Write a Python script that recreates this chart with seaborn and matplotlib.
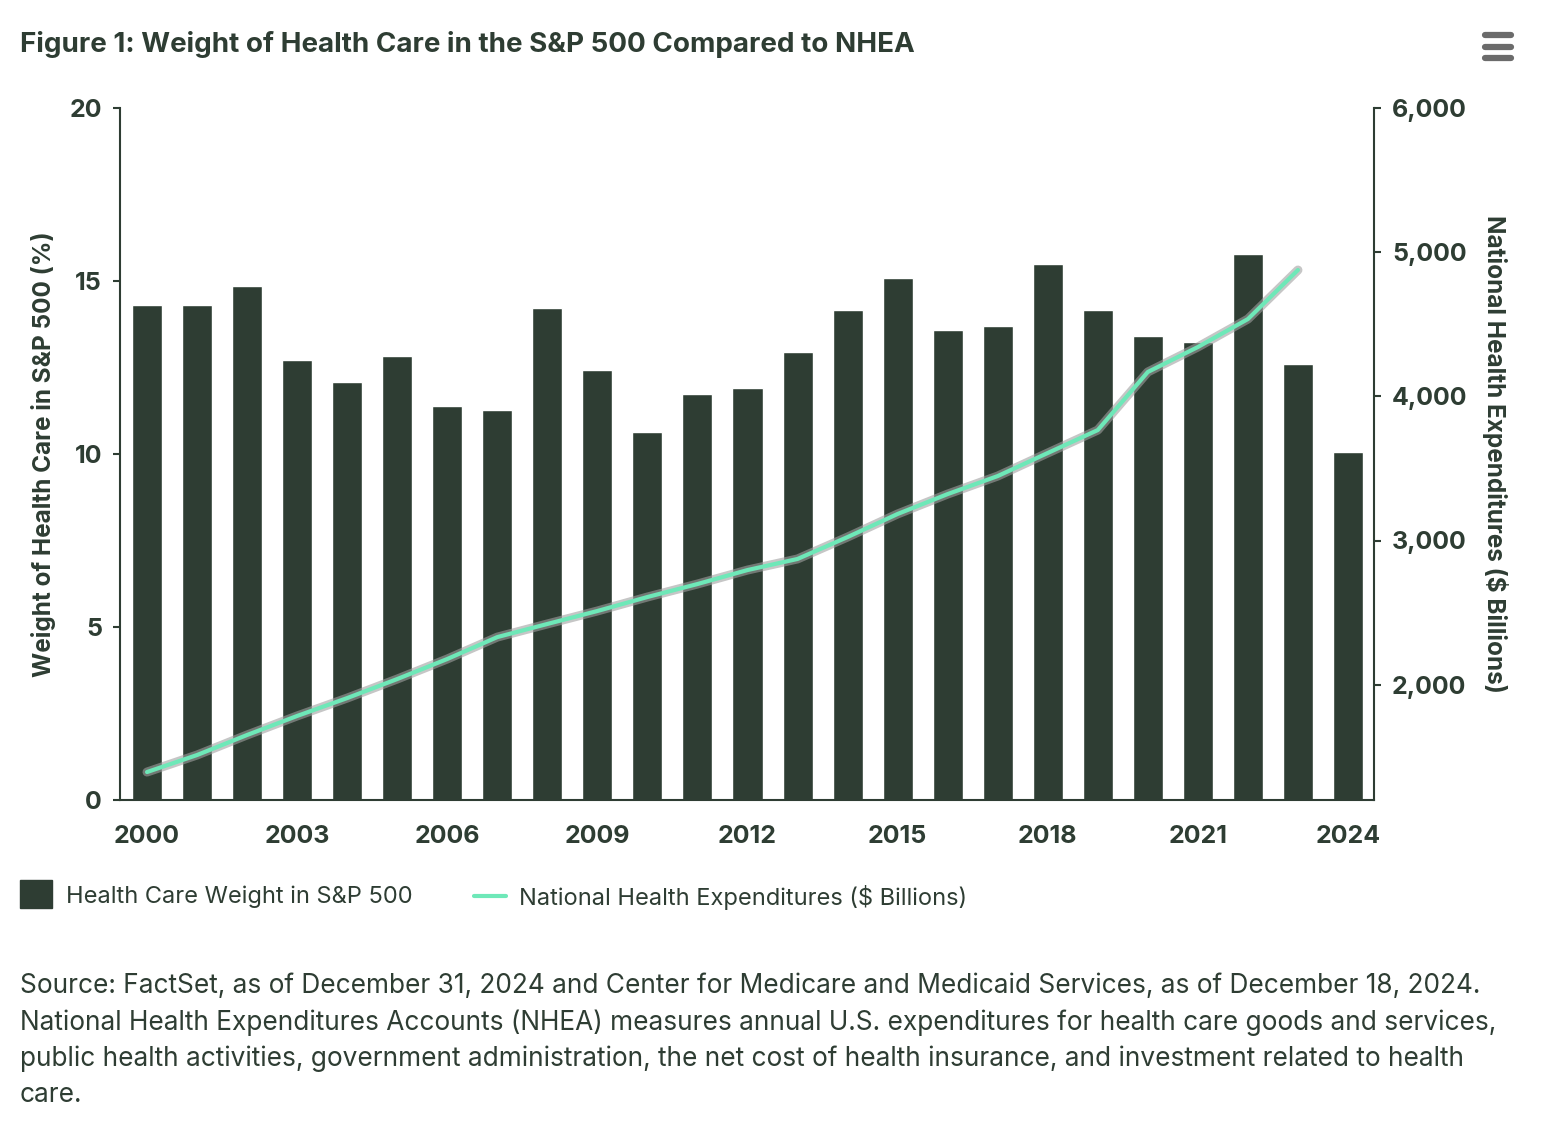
import numpy as np
import pandas as pd
import matplotlib
matplotlib.use("Agg")
import matplotlib.pyplot as plt
import matplotlib.patheffects as pe
from matplotlib.lines import Line2D
from matplotlib.patches import Rectangle
import seaborn as sns

# data
years = list(range(2000, 2025))
hc_weight = [14.3, 14.3, 14.86, 12.72, 12.08, 12.83, 11.39, 11.27, 14.22, 12.43,
             10.64, 11.73, 11.91, 12.95, 14.16, 15.09, 13.58, 13.70, 15.49, 14.16,
             13.41, 13.24, 15.78, 12.6, 10.06]
nhe_years = list(range(2000, 2024))
nhe = [1394, 1512, 1651, 1783, 1907, 2039, 2178, 2330, 2421, 2511,
       2608, 2698, 2795, 2872, 3024, 3184, 3322, 3447, 3607, 3766,
       4169, 4342, 4536, 4876]
xtick_years = [2000, 2003, 2006, 2009, 2012, 2015, 2018, 2021, 2024]
left_ticks = [0, 5, 10, 15, 20]
right_ticks = [2000, 3000, 4000, 5000, 6000]

dark = "#2e3d33"
mint = "#6ee8b8"

sns.set_theme(style="white")
plt.rcParams['font.family'] = ['Inter', 'DejaVu Sans']

df_bar = pd.DataFrame({"year": years, "weight": hc_weight})
df_line = pd.DataFrame({"year": nhe_years, "nhe": nhe})

fig = plt.figure(figsize=(15.44, 11.28), dpi=100)
ax = fig.add_axes([120 / 1544, 1 - 800 / 1128, (1374 - 120) / 1544, 692 / 1128])

sns.barplot(data=df_bar, x="year", y="weight", native_scale=True, width=0.6,
            color=dark, saturation=1, ax=ax)
ax.set_xlim(1999.46, 2024.52)
ax.set_ylim(0, 20)
ax.set_yticks(left_ticks)
ax.set_xticks(xtick_years)
ax.set_xticklabels([str(y) for y in xtick_years])
ax.set_xlabel("")
ax.set_ylabel("Weight of Health Care in S&P 500 (%)", fontsize=17.5, fontweight="bold",
              color=dark, va="center")
ax.yaxis.set_label_coords((44 - 120) / 1254, 0.5)

ax2 = ax.twinx()
sns.lineplot(data=df_line, x="year", y="nhe", color=mint, linewidth=3, ax=ax2,
             solid_capstyle="round",
             path_effects=[pe.Stroke(linewidth=6.5, foreground="#a0a0a0", alpha=0.6), pe.Normal()])
ax2.set_ylim(1200, 6000)
ax2.set_yticks(right_ticks)
ax2.set_yticklabels([f"{v:,}" for v in right_ticks])
ax2.set_xlabel("")
ax2.set_ylabel("National Health Expenditures ($ Billions)", fontsize=17.5, fontweight="bold",
               color=dark, rotation=270, va="center")
ax2.yaxis.set_label_coords((1495 - 120) / 1254, 0.5)
ax2.grid(False)
ax.grid(False)

for a in (ax, ax2):
    for s in a.spines.values():
        s.set_visible(False)
    a.tick_params(colors=dark, labelsize=18, length=5, width=1.5)
    for lab in a.get_xticklabels() + a.get_yticklabels():
        lab.set_fontweight("bold")
        lab.set_color(dark)
ax.spines["left"].set_visible(True)
ax.spines["bottom"].set_visible(True)
ax2.spines["right"].set_visible(True)
for s in (ax.spines["left"], ax.spines["bottom"], ax2.spines["right"]):
    s.set_color(dark)
    s.set_linewidth(1.5)
ax.tick_params(axis="x", pad=14, length=4)
ax.tick_params(axis="y", pad=8)
ax2.tick_params(axis="y", pad=8)
ax2.tick_params(axis="x", bottom=False, labelbottom=False)

# title
fig.text(20 / 1544, 1 - 44 / 1128, "Figure 1: Weight of Health Care in the S&P 500 Compared to NHEA",
         fontsize=20, fontweight="bold", color=dark, va="center", ha="left")

# menu icon
for yy in (35, 47, 58):
    fig.add_artist(Line2D([1485 / 1544, 1511 / 1544], [1 - yy / 1128] * 2, color="#6b6b6b",
                          linewidth=4.5, solid_capstyle="round"))

# legend
fig.add_artist(Rectangle((20 / 1544, 1 - 908 / 1128), 32 / 1544, 28 / 1128, color=dark,
                         transform=fig.transFigure))
fig.text(66 / 1544, 1 - 897 / 1128, "Health Care Weight in S&P 500", fontsize=17,
         color=dark, va="center", ha="left")
fig.add_artist(Line2D([474 / 1544, 506 / 1544], [1 - 896 / 1128] * 2, color=mint, linewidth=3))
fig.text(519 / 1544, 1 - 897 / 1128, "National Health Expenditures ($ Billions)", fontsize=17,
         color=dark, va="center", ha="left")

footer = ["Source: FactSet, as of December 31, 2024 and Center for Medicare and Medicaid Services, as of December 18, 2024.",
          "National Health Expenditures Accounts (NHEA) measures annual U.S. expenditures for health care goods and services,",
          "public health activities, government administration, the net cost of health insurance, and investment related to health",
          "care."]
for i, line in enumerate(footer):
    fig.text(20 / 1544, 1 - (986 + i * 36.5) / 1128, line, fontsize=18.9, color=dark,
             va="center", ha="left")

fig.savefig("out.png", dpi=100, facecolor="white")
